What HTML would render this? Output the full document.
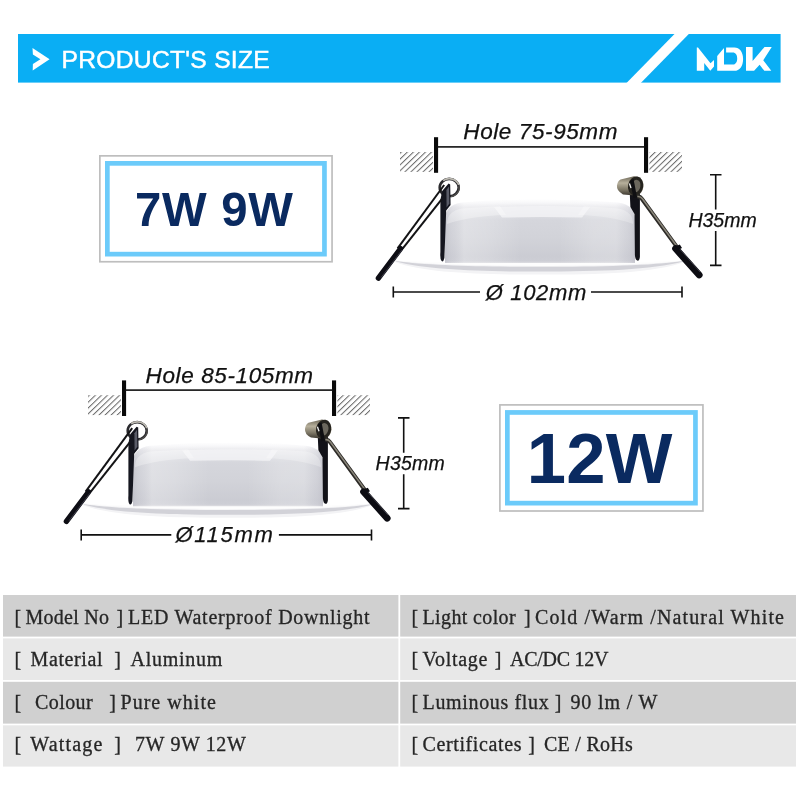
<!DOCTYPE html>
<html>
<head>
<meta charset="utf-8">
<title>Product's Size</title>
<style>
html,body{margin:0;padding:0;background:#fff;}
body{width:800px;height:791px;position:relative;overflow:hidden;font-family:"Liberation Sans",sans-serif;}
svg{position:absolute;left:0;top:0;display:block;will-change:transform;}
</style>
</head>
<body>
<svg width="800" height="791" viewBox="0 0 800 791">
<defs>
  <pattern id="hatch" width="4.2" height="4.2" patternUnits="userSpaceOnUse" patternTransform="rotate(46) translate(1.2 0)">
    <rect x="0" y="0" width="4.2" height="4.2" fill="#fff"/>
    <rect x="0" y="0" width="1.05" height="4.2" fill="#6e6e6e"/>
  </pattern>
  <linearGradient id="bodyg" x1="0" y1="0" x2="1" y2="0">
    <stop offset="0" stop-color="#b8b8c2" stop-opacity="0.5"/>
    <stop offset="0.04" stop-color="#d0d0d8" stop-opacity="0.2"/>
    <stop offset="0.1" stop-color="#fff" stop-opacity="0.28"/>
    <stop offset="0.22" stop-color="#fff" stop-opacity="0.2"/>
    <stop offset="0.4" stop-color="#fff" stop-opacity="0"/>
    <stop offset="0.6" stop-color="#fff" stop-opacity="0"/>
    <stop offset="0.78" stop-color="#fff" stop-opacity="0.2"/>
    <stop offset="0.9" stop-color="#fff" stop-opacity="0.22"/>
    <stop offset="0.96" stop-color="#d0d0d8" stop-opacity="0.2"/>
    <stop offset="1" stop-color="#b8b8c2" stop-opacity="0.5"/>
  </linearGradient>
  <linearGradient id="bodyv" x1="0" y1="199" x2="0" y2="263" gradientUnits="userSpaceOnUse">
    <stop offset="0" stop-color="#ffffff"/>
    <stop offset="0.06" stop-color="#f7f7f9"/>
    <stop offset="0.13" stop-color="#e7e7eb"/>
    <stop offset="0.22" stop-color="#dedfe4"/>
    <stop offset="0.32" stop-color="#d5d6dc"/>
    <stop offset="0.6" stop-color="#d2d3d9"/>
    <stop offset="0.9" stop-color="#cbccd3"/>
    <stop offset="0.97" stop-color="#cdced5"/>
    <stop offset="1" stop-color="#dedee2"/>
  </linearGradient>
  <linearGradient id="coil" x1="0" y1="0" x2="0" y2="1">
    <stop offset="0" stop-color="#6e6858"/>
    <stop offset="0.35" stop-color="#b7b09c"/>
    <stop offset="0.7" stop-color="#7b7564"/>
    <stop offset="1" stop-color="#3a362e"/>
  </linearGradient>

  <g id="lamp">
    <!-- ceiling hatches -->
    <rect x="400" y="152" width="33" height="19.9" fill="url(#hatch)"/>
    <rect x="649.4" y="152" width="32.6" height="19.9" fill="url(#hatch)"/>
    <!-- hole bars & line -->
    <rect x="434" y="137.2" width="4.1" height="35.6" fill="#0a0a0a"/>
    <rect x="644" y="137.2" width="4.1" height="35.6" fill="#0a0a0a"/>
    <rect x="437" y="146.1" width="208" height="1.6" fill="#111"/>
    <!-- height dimension -->
    <g stroke="#111" stroke-width="1.6" fill="none">
      <path d="M710 174.7H721.5M715.7 174.7V209.5M715.7 231V265.4M710 265.4H721.5"/>
    </g>

    <!-- flange -->
    <path d="M395.5 260.4 Q 420 263 446 263.4 L 634 263.4 Q 660 263 683.5 260.4 L 684 262 C 655 273 600 274.6 540 274.6 S 425 273 395 262 Z" fill="#f3f3f5"/>
    <path d="M396 261.6 C 428 270 480 271.6 540 271.6 S 652 270 683.5 261.6 L 683 261 C 652 265.6 600 266.8 540 266.8 S 428 265.6 396 261 Z" fill="#d2d2d8"/>
    <path d="M396 260.6 C 428 264.6 480 266 540 266 S 652 264.6 683.5 260.6 L 634 262.6 L 446 262.6 Z" fill="#fdfdfd"/>
    <!-- body -->
    <path d="M445 263 V 220 Q 445 205 462 202.6 Q 540 196 618 202.6 Q 635 205 635 220 V 263 Z" fill="url(#bodyv)"/>
    <path d="M445 263 V 220 Q 445 205 462 202.6 Q 540 196 618 202.6 Q 635 205 635 220 V 263 Z" fill="url(#bodyg)"/>
    <path d="M494 207 Q 540 205 590 207 L 582 217.6 Q 540 216.4 502 217.6 Z" fill="#f4f4f6" opacity="0.8"/>
    <path d="M447 222 Q 448 211 462 208.4 L 500 206 L 506 215 Q 470 216 447 224 Z" fill="#fff" opacity="0.3"/>
    <path d="M633 222 Q 632 211 618 208.4 L 584 206 L 578 215 Q 612 216 633 224 Z" fill="#fff" opacity="0.25"/>
    <!-- left coil ring -->
    <ellipse cx="449.2" cy="187.6" rx="9.5" ry="8.7" fill="none" stroke="#2a2a2e" stroke-width="2.6"/>
    <path d="M443.2 180.6 A 9.9 9 0 0 1 458.8 185" fill="none" stroke="#bdbab2" stroke-width="1.7"/>
    <path d="M458.9 186 A 9.7 8.8 0 0 1 451 196.6" fill="none" stroke="#55534f" stroke-width="1.1"/>
    <!-- left bracket -->
    <path d="M442.2 191 L 448.6 183.6 L 450.2 184.4 L 450.6 205 L 446.2 210.6 L 444.4 258 Q 443.3 262.5 441.6 261 Q 439.8 259 440.4 252 L 440.4 200 Z" fill="#15161f"/>
    <path d="M446.4 190 L 449 186.6 L 449.4 203.6 L 446.6 207.4 Z" fill="#5a5c68"/>
    <!-- left arm wires -->
    <path d="M444.2 185 L 397.6 248.4" stroke="#141416" stroke-width="2" fill="none"/>
    <path d="M441.6 199.4 L 402.6 248.6" stroke="#141416" stroke-width="2" fill="none"/>
    <!-- left sleeve -->
    <path d="M400.6 248.6 L 378.4 278.2" stroke="#0d0d14" stroke-width="5.4" stroke-linecap="round" fill="none"/>
    <path d="M401.8 250.2 L 381 277.6" stroke="#3c3c48" stroke-width="1" fill="none"/>

    <!-- right bracket -->
    <path d="M629.8 194 L 638.6 188 L 639.9 188.6 L 639.9 257 Q 639.4 261 637.4 260.6 Q 635.2 260 634.9 255 L 634.5 214 L 630.4 207 Z" fill="#121218"/>
    <!-- right coil (cylinder) -->
    <path d="M620.5 179.5 L 634 176.3 Q 643.8 177.5 643.6 186 Q 642.5 194.5 635.5 195.6 L 623 194.4 Q 616.4 191 617 185.6 Q 617.6 181 620.5 179.5 Z" fill="url(#coil)"/>
    <ellipse cx="635.6" cy="186" rx="7.6" ry="9.6" fill="#26241f" transform="rotate(12 635.6 186)"/>
    <ellipse cx="636" cy="186" rx="4.4" ry="6.2" fill="#6b675d" transform="rotate(12 636 186)"/>
    <path d="M630 181 L 633.5 179 L 637 197 L 633.5 198 Z" fill="#0f0f12"/>
    <path d="M629.4 183.5 L 631 188" stroke="#f2f2f2" stroke-width="1.3" fill="none"/>
    <!-- right arm -->
    <path d="M637 196.6 Q 640 196 642 199 L 677.4 247.6" stroke="#2c2a27" stroke-width="4" fill="none"/>
    <path d="M637.4 196.5 Q 640.4 196 642.4 198.8 L 677.6 247.2" stroke="#8a867a" stroke-width="1.5" fill="none"/>
    <!-- right sleeve -->
    <path d="M675.6 248.6 L 699.2 275" stroke="#0c0c12" stroke-width="6.8" stroke-linecap="round" fill="none"/>
    <path d="M673.2 247.4 L 679.8 244.6 L 682 248 L 675 251.6 Z" fill="#0c0c12"/>
    <path d="M680 249.4 L 700 272" stroke="#3a3a44" stroke-width="1" fill="none"/>
  </g>
</defs>

<!-- header -->
<rect x="18" y="34" width="762.6" height="48.6" fill="#0aaef4"/>
<path d="M675 33.5 L 689.3 33.5 L 640.8 83 L 626.5 83 Z" fill="#fff"/>
<path d="M32.5 48 L 49.6 59.2 L 32.7 70.6 L 32.9 64 L 40.4 59.2 L 32.9 54.4 Z" fill="#fff"/>
<text x="61.6" y="68.3" font-family="Liberation Sans, sans-serif" font-size="24.6" letter-spacing="0.3" fill="#fff" stroke="#fff" stroke-width="0.5">PRODUCT'S SIZE</text>

<!-- logo MDK -->
<g fill="#fff">
  <path d="M696.8 47.5 L 698 47.5 L 710.5 63.2 L 714 59.9 L 714 66.4 L 710.3 70.7 L 704.2 63 L 704.2 70.7 L 696.8 70.7 Z"/>
  <path d="M723.8 48.2 L 717.2 56.1 L 717.2 70.8 L 734.4 70.8 C 739.5 70.8 743.1 66.1 743.1 58.9 C 743.1 52.1 739.5 47.6 734.4 47.6 L 726.1 47.6 L 726.1 52.5 L 732.7 52.5 C 735.7 52.5 737.2 55 737.2 58.45 C 737.2 61.85 735.7 64.6 732.7 64.6 L 724 64.6 L 724 48.2 Z"/>
  <path d="M746 47 H 752.6 V 61 L 764.5 47 L 771.75 47 L 763.25 60.15 L 771.3 70.8 L 764.3 70.8 L 759.6 64.8 L 754.1 70.8 L 746 70.8 Z"/>
</g>

<!-- boxes -->
<rect x="99.85" y="155.85" width="232.2" height="105.9" fill="#fff" stroke="#bebebe" stroke-width="1.7"/>
<rect x="107.35" y="163.35" width="217.1" height="90.8" fill="none" stroke="#6ccbfa" stroke-width="4.7"/>
<text x="134.9" y="226.1" font-family="Liberation Sans, sans-serif" font-weight="bold" font-size="47.3" letter-spacing="0.75" fill="#0a2a60">7W 9W</text>

<rect x="499.9" y="404.9" width="203.05" height="106.1" fill="#fff" stroke="#bebebe" stroke-width="1.7"/>
<rect x="507.35" y="412.45" width="188.1" height="90.7" fill="none" stroke="#6ccbfa" stroke-width="4.7"/>
<text x="526.8" y="483.1" font-family="Liberation Sans, sans-serif" font-weight="bold" font-size="70.6" letter-spacing="0.2" fill="#0a2a60">12W</text>

<!-- lamps -->
<use href="#lamp"/>
<use href="#lamp" transform="translate(-312 243.2)"/>

<!-- bottom dimension lines -->
<g stroke="#111" stroke-width="1.6" fill="none">
  <path d="M393.3 286.5V297.5M393.3 292H480"/>
  <path d="M682 286.5V297.5M682 292H591"/>
  <path d="M81.2 529.4V540.4M81.2 534.9H171.3"/>
  <path d="M371.5 529.4V540.4M371.5 534.9H278.9"/>
</g>
<!-- diagram text -->
<g font-family="Liberation Sans, sans-serif" font-style="italic" fill="#111" stroke="#111" stroke-width="0.25">
  <text x="463.3" y="139.4" font-size="22.5" letter-spacing="0.6">Hole 75-95mm</text>
  <text x="688.4" y="226.9" font-size="19.5" letter-spacing="0">H35mm</text>
  <text x="485.8" y="299.6" font-size="22" letter-spacing="0.65">Ø 102mm</text>
  <text x="145.6" y="382.5" font-size="22.5" letter-spacing="0.62">Hole 85-105mm</text>
  <text x="375.6" y="470" font-size="19.5" letter-spacing="0.2">H35mm</text>
  <text x="175.4" y="542.4" font-size="22" letter-spacing="1.7">Ø115mm</text>
</g>
</svg>

<svg width="800" height="791" viewBox="0 0 800 791">
<!-- table -->
<g>
  <rect x="3" y="595" width="395.4" height="41.6" fill="#d0d0d0"/>
  <rect x="3" y="638.4" width="395.4" height="41.6" fill="#e8e8e8"/>
  <rect x="3" y="681.8" width="395.4" height="41.8" fill="#d0d0d0"/>
  <rect x="3" y="725.3" width="395.4" height="41.3" fill="#e8e8e8"/>
  <rect x="400.2" y="595" width="395.8" height="41.6" fill="#d0d0d0"/>
  <rect x="400.2" y="638.4" width="395.8" height="41.6" fill="#e8e8e8"/>
  <rect x="400.2" y="681.8" width="395.8" height="41.8" fill="#d0d0d0"/>
  <rect x="400.2" y="725.3" width="395.8" height="41.3" fill="#e8e8e8"/>
</g>
<g font-family="Liberation Serif, serif" font-size="20" fill="#262626" stroke="#262626" stroke-width="0.3">
<text x="14.6" y="623.6">[</text>
<text x="25.5" y="623.6" letter-spacing="0.26">Model No</text>
<text x="116.4" y="623.6">]</text>
<text x="128" y="623.6" letter-spacing="0.74">LED Waterproof Downlight</text>
<text x="14.6" y="666.1">[</text>
<text x="30.5" y="666.1" letter-spacing="0.62">Material</text>
<text x="114.2" y="666.1">]</text>
<text x="130.5" y="666.1" letter-spacing="0.74">Aluminum</text>
<text x="14.6" y="708.6">[</text>
<text x="35" y="708.6" letter-spacing="0.42">Colour</text>
<text x="109.2" y="708.6">]</text>
<text x="120.5" y="708.6" letter-spacing="1.03">Pure white</text>
<text x="14.6" y="751.1">[</text>
<text x="30.2" y="751.1" letter-spacing="1.19">Wattage</text>
<text x="114.2" y="751.1">]</text>
<text x="135" y="751.1" letter-spacing="0.62">7W 9W 12W</text>
<text x="411.4" y="623.6">[</text>
<text x="422.5" y="623.6" letter-spacing="0.37">Light color</text>
<text x="524" y="623.6">]</text>
<text x="535" y="623.6" letter-spacing="1.13">Cold /Warm /Natural White</text>
<text x="411.4" y="666.1">[</text>
<text x="422.5" y="666.1" letter-spacing="0.69">Voltage</text>
<text x="494.8" y="666.1">]</text>
<text x="510" y="666.1" letter-spacing="-0.27">AC/DC 12V</text>
<text x="411.4" y="708.6">[</text>
<text x="422.5" y="708.6" letter-spacing="0.66">Luminous flux</text>
<text x="554.8" y="708.6">]</text>
<text x="570.5" y="708.6" letter-spacing="0.84">90 lm / W</text>
<text x="411.4" y="751.1">[</text>
<text x="422.5" y="751.1" letter-spacing="0.62">Certificates</text>
<text x="528.2" y="751.1">]</text>
<text x="544" y="751.1" letter-spacing="0.26">CE / RoHs</text>
</g>
</svg>
</body>
</html>
